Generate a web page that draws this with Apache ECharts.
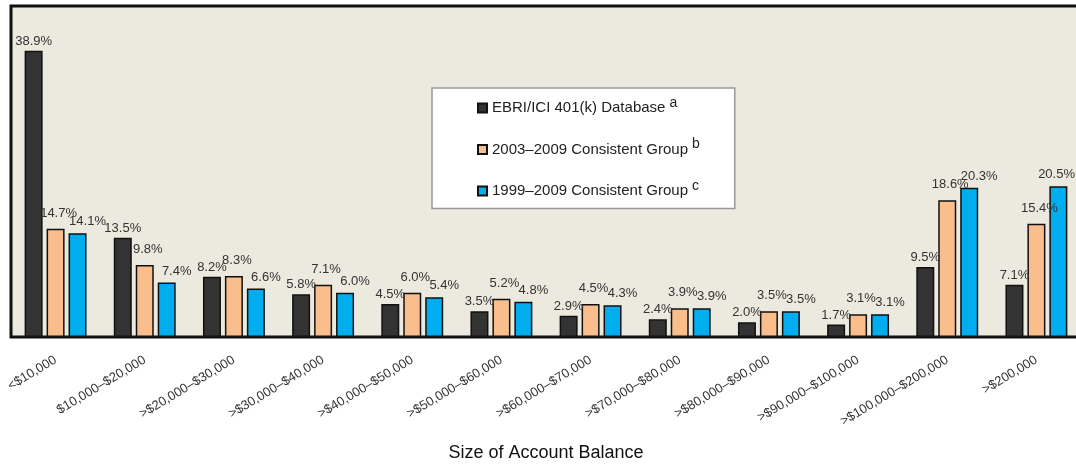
<!DOCTYPE html>
<html>
<head>
<meta charset="utf-8">
<script src="https://cdn.jsdelivr.net/npm/echarts@6/dist/echarts.min.js"></script>
<style>
  html, body { margin: 0; padding: 0; background: #ffffff; }
  #chart { width: 1076px; height: 464px; }
</style>
</head>
<body>
<div id="chart"></div>
<script>
const categories = [
  '<$10,000', '$10,000–$20,000', '>$20,000–$30,000', '>$30,000–$40,000',
  '>$40,000–$50,000', '>$50,000–$60,000', '>$60,000–$70,000', '>$70,000–$80,000',
  '>$80,000–$90,000', '>$90,000–$100,000', '>$100,000–$200,000', '>$200,000'
];
const ebriAll = [38.9, 13.5, 8.2, 5.8, 4.5, 3.5, 2.9, 2.4, 2.0, 1.7, 9.5, 7.1];
const group0309 = [14.7, 9.8, 8.3, 7.1, 6.0, 5.2, 4.5, 3.9, 3.5, 3.1, 18.6, 15.4];
const group9909 = [14.1, 7.4, 6.6, 6.0, 5.4, 4.8, 4.3, 3.9, 3.5, 3.1, 20.3, 20.5];
const seriesNames = ['EBRI/ICI 401(k) Database', '2003–2009 Consistent Group', '1999–2009 Consistent Group'];
const superscripts = ['a', 'b', 'c'];

const FONT = '"Liberation Sans", Arial, Helvetica, sans-serif';
const colors = ['#333333', '#F9BE8C', '#00AEEF'];
// value labels sit a little apart so neighbours don't collide
const labelDistance = [3, 9, 5];
const labelShiftX = [0, 3, 10];

const chart = echarts.init(document.getElementById('chart'));

// nudge labels sideways, but keep them inside the right edge of the canvas
const nudge = (shift) => (p) => {
  const r = p.labelRect;
  const over = r.x + r.width + shift - 1075;
  return { dx: over > 0 ? shift - over : shift };
};

const makeSeries = (name, data, i) => ({
  name: name,
  type: 'bar',
  data: data,
  barWidth: 18,
  barGap: '22%',
  itemStyle: {
    color: colors[i],
    borderColor: '#111111',
    borderWidth: 1.5
  },
  label: {
    show: true,
    position: 'top',
    distance: labelDistance[i],
    color: '#333333',
    fontFamily: FONT,
    fontSize: 13,
    formatter: (p) => p.value.toFixed(1) + '%'
  },
  labelLayout: nudge(labelShiftX[i])
});

chart.setOption({
  animation: false,
  textStyle: { fontFamily: FONT },
  grid: {
    left: 11,
    width: 1070,
    top: 6,
    bottom: 127,
    outerBoundsMode: 'none',
    containLabel: false,
    show: true,
    backgroundColor: '#ECE9DF',
    borderColor: '#111111',
    borderWidth: 3
  },
  legend: {
    orient: 'vertical',
    left: 432,
    top: 88,
    padding: [8, 35, 10, 45],
    itemGap: 22,
    itemWidth: 9,
    itemHeight: 9,
    icon: 'rect',
    backgroundColor: '#ffffff',
    borderColor: '#999999',
    borderWidth: 1.5,
    formatter: (name) => {
      const i = seriesNames.indexOf(name);
      return '{t|' + name + '}{s|' + superscripts[i] + '}';
    },
    textStyle: {
      rich: {
        t: { fontFamily: FONT, fontSize: 15, color: '#222222', lineHeight: 24 },
        s: { fontFamily: FONT, fontSize: 14, color: '#222222', lineHeight: 12, verticalAlign: 'top', padding: [0, 0, 0, 4] }
      }
    },
    data: seriesNames
  },
  xAxis: {
    type: 'category',
    data: categories,
    name: 'Size of Account Balance',
    nameLocation: 'middle',
    nameGap: 107,
    nameTextStyle: { fontFamily: FONT, fontSize: 18, color: '#111111' },
    axisLine: { show: true, lineStyle: { color: '#111111', width: 2 } },
    axisTick: { show: false },
    axisLabel: {
      rotate: 31,
      interval: 0,
      margin: 22,
      fontFamily: FONT,
      fontSize: 13,
      color: '#333333'
    }
  },
  yAxis: {
    type: 'value',
    min: 0,
    max: 45,
    show: false,
    splitLine: { show: false }
  },
  series: [
    makeSeries(seriesNames[0], ebriAll, 0),
    makeSeries(seriesNames[1], group0309, 1),
    makeSeries(seriesNames[2], group9909, 2)
  ]
});
</script>
</body>
</html>
